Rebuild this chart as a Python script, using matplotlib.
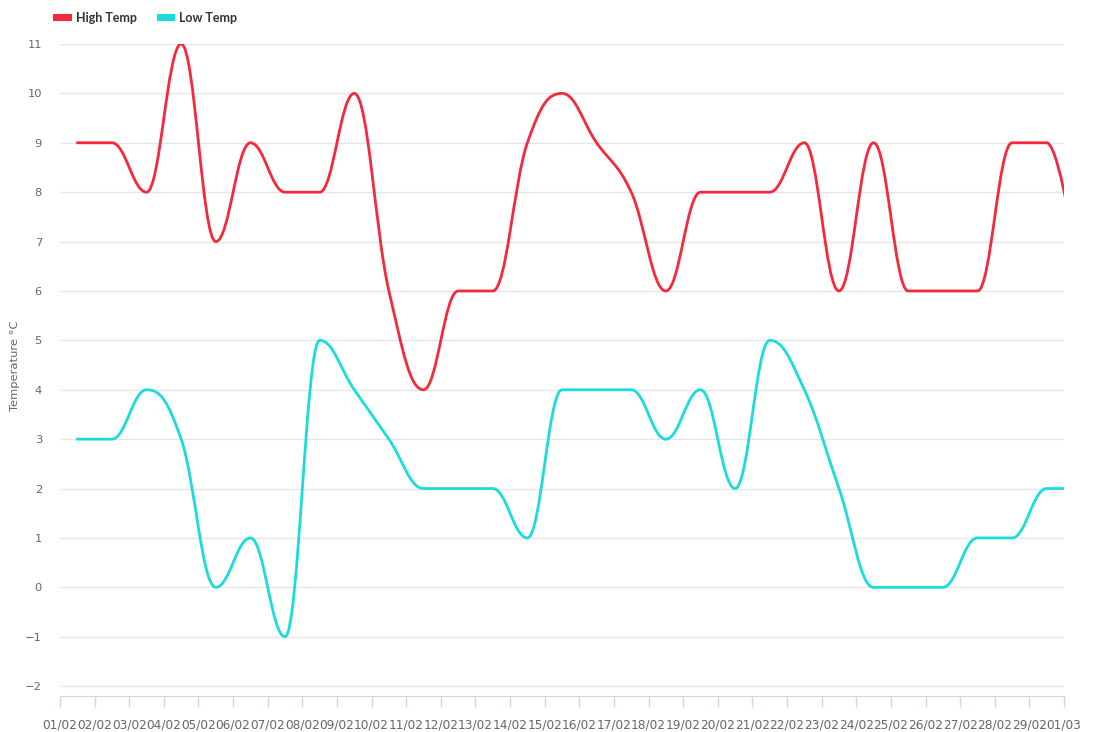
import numpy as np
import matplotlib
matplotlib.use("Agg")
import matplotlib.pyplot as plt
from matplotlib.path import Path
from matplotlib.patches import PathPatch, Patch

# daily values, 01/02 .. 01/03 (one reading per day, plotted mid-day)
days = ["01/02", "02/02", "03/02", "04/02", "05/02", "06/02", "07/02", "08/02",
        "09/02", "10/02", "11/02", "12/02", "13/02", "14/02", "15/02", "16/02",
        "17/02", "18/02", "19/02", "20/02", "21/02", "22/02", "23/02", "24/02",
        "25/02", "26/02", "27/02", "28/02", "29/02", "01/03"]
high_temp = [9, 9, 8, 11, 7, 9, 8, 8, 10, 6, 4, 6, 6, 9, 10, 9, 8, 6, 8, 8,
             8, 9, 6, 9, 6, 6, 6, 9, 9, 6]
low_temp = [3, 3, 4, 3, 0, 1, -1, 5, 4, 3, 2, 2, 2, 1, 4, 4, 4, 3, 4, 2,
            5, 4, 2, 0, 0, 0, 1, 1, 2, 2]

RED = "#f5283c"
CYAN = "#1adcdc"

W, H = 1114, 732
L, R, T, B = 60, 1064, 44, 696
YMIN, YMAX = -2.2, 11


def spline_path(xs, ys, smoothing=1.5):
    """Cubic spline path like the usual web-chart 'spline' series (no false extremes)."""
    xs = list(map(float, xs))
    ys = list(map(float, ys))
    n = len(xs)
    denom = smoothing + 1
    verts = [(xs[0], ys[0])]
    codes = [Path.MOVETO]
    right_prev = (xs[0], ys[0])
    for i in range(1, n):
        x, y = xs[i], ys[i]
        lx, ly = xs[i - 1], ys[i - 1]
        if i < n - 1:
            nx, ny = xs[i + 1], ys[i + 1]
            lcx = (smoothing * x + lx) / denom
            lcy = (smoothing * y + ly) / denom
            rcx = (smoothing * x + nx) / denom
            rcy = (smoothing * y + ny) / denom
            corr = 0.0
            if rcx != lcx:
                corr = (rcy - lcy) * (rcx - x) / (rcx - lcx) + y - rcy
            lcy += corr
            rcy += corr
            if lcy > ly and lcy > y:
                lcy = max(ly, y)
                rcy = 2 * y - lcy
            elif lcy < ly and lcy < y:
                lcy = min(ly, y)
                rcy = 2 * y - lcy
            if rcy > ny and rcy > y:
                rcy = max(ny, y)
                lcy = 2 * y - rcy
            elif rcy < ny and rcy < y:
                rcy = min(ny, y)
                lcy = 2 * y - rcy
        else:
            lcx, lcy = x, y
            rcx, rcy = x, y
        verts += [right_prev, (lcx, lcy), (x, y)]
        codes += [Path.CURVE4] * 3
        right_prev = (rcx, rcy)
    return Path(verts, codes)


plt.rcParams["font.family"] = ["DejaVu Sans"]

fig = plt.figure(figsize=(W / 100, H / 100), dpi=100)
ax = fig.add_axes([L / W, 1 - B / H, (R - L) / W, (B - T) / H])

n = len(days)
xs = np.arange(n) + 0.5
ax.set_xlim(0, n - 1)
ax.set_ylim(YMIN, YMAX)

for vals, col in [(high_temp, RED), (low_temp, CYAN)]:
    ax.add_patch(PathPatch(spline_path(xs, vals), facecolor="none", edgecolor=col,
                           lw=2, capstyle="round", joinstyle="round", zorder=3))

ax.set_yticks(range(-2, 12))
ax.set_yticklabels([str(v).replace("-", "\u2212") for v in range(-2, 12)])
ax.grid(axis="y", color="#e6e6e6", lw=1)
ax.set_axisbelow(True)
ax.set_xticks(range(n))
ax.set_xticklabels(days)

for s in ["top", "right", "left"]:
    ax.spines[s].set_visible(False)
ax.spines["bottom"].set_color("#ccd6eb")
ax.tick_params(axis="x", colors="#ccd6eb", length=8, width=1, pad=8,
               labelcolor="#666666", labelsize=8.7)
ax.tick_params(axis="y", length=0, pad=13, labelcolor="#666666", labelsize=8.25)

fig.text(15 / W, 1 - 366 / H, "Temperature \u00b0C", rotation=90,
         ha="center", va="center", fontsize=8.25, color="#666666")

handles = [Patch(facecolor=RED, edgecolor="none", label="High Temp"),
           Patch(facecolor=CYAN, edgecolor="none", label="Low Temp")]
fig.legend(handles=handles, loc="upper left", bbox_to_anchor=(48 / W, 1 - 7 / H),
           ncol=2, frameon=False, handlelength=1.5, handleheight=0.55,
           handletextpad=0.3, columnspacing=1.6, borderaxespad=0,
           prop={"family": "Lato", "weight": "bold", "size": 9})
for t in fig.legends[0].get_texts():
    t.set_color("#333333")

fig.savefig("out.png", dpi=100)
